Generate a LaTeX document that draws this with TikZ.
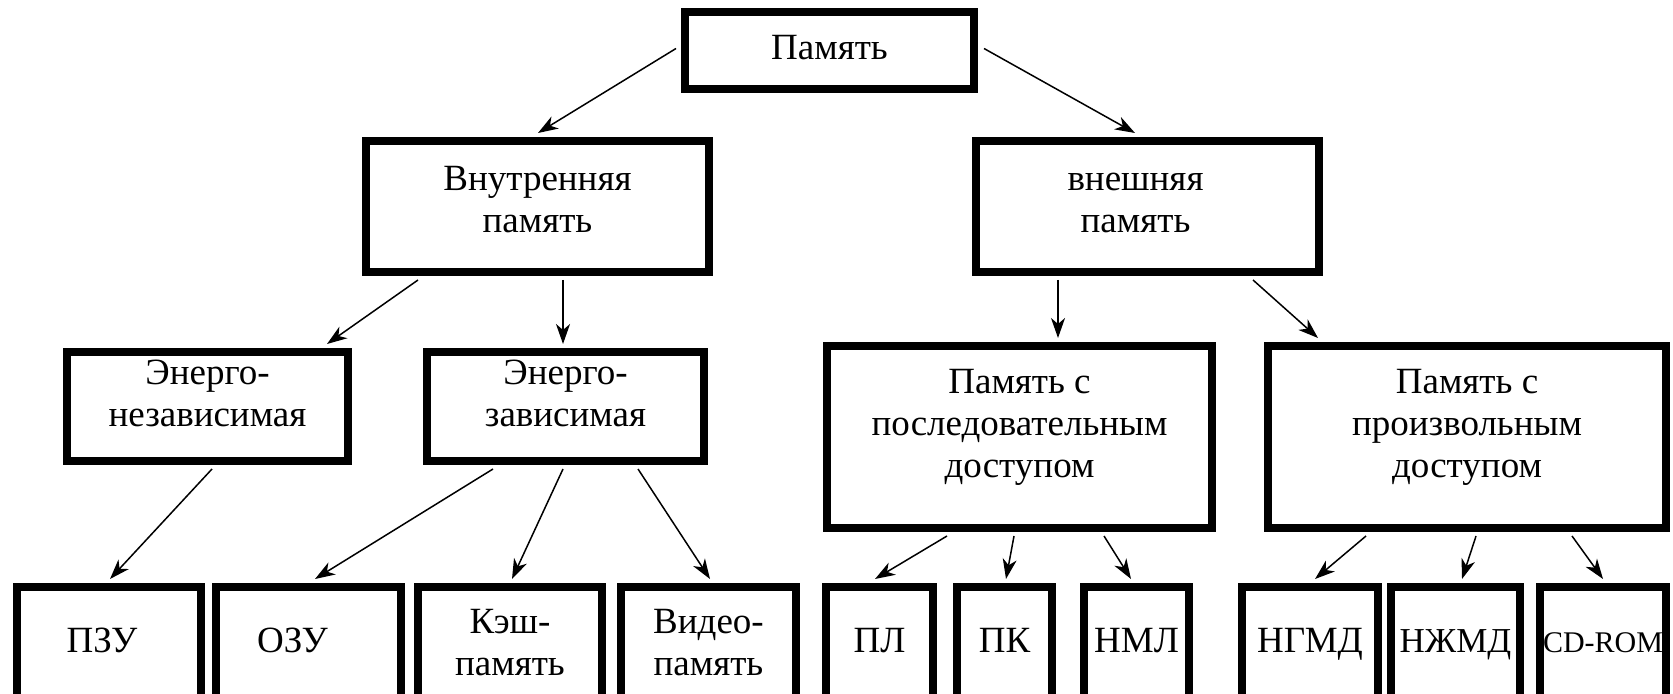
\documentclass[tikz,border=0pt]{standalone}
\usepackage{fontspec}
\setmainfont{Liberation Serif}
\usetikzlibrary{arrows.meta,calc}
\newcommand{\boxtxt}[3][0pt]{\makebox[0pt]{\hspace*{#1}\hspace*{#1}\raisebox{#2}[0pt][0pt]{\begin{tabular}[b]{@{}c@{}}#3\end{tabular}}}}
\begin{document}
\begin{tikzpicture}[x=0.5pt,y=-0.5pt,
  box/.style={draw, line width=4pt, inner sep=0pt,
    font=\fontsize{18.5}{21}\selectfont},
  conn/.style={line width=0.75pt, -{Stealth[length=10pt,width=7pt,inset=3pt]}},
  lowbox/.style={box, minimum height=100pt}]
\useasboundingbox (0,0) rectangle (1673,694);
\fill[white] (0,0) rectangle (1673,694);
\clip (0,0) rectangle (1673,694);
% level 0
\node[box, minimum width=144.5pt, minimum height=38.5pt] (root) at (829.5,50.5) {\boxtxt{-4.75pt}{Память}};
% level 1
\node[box, minimum width=171.5pt, minimum height=65.5pt] (int) at (537.5,206.5) {\boxtxt{-13.25pt}{Внутренняя\\память}};
\node[box, minimum width=171.5pt, minimum height=65.5pt] (ext) at (1147.5,206.5) {\boxtxt[-6pt]{-13.25pt}{внешняя\\память}};
% level 2
\node[box, minimum width=140.5pt, minimum height=54.5pt] (nez) at (207.5,406.5) {\boxtxt{-10.25pt}{Энерго-\\независимая}};
\node[box, minimum width=138.5pt, minimum height=54.5pt] (zav) at (565.5,406.5) {\boxtxt{-10.25pt}{Энерго-\\зависимая}};
\node[box, minimum width=192.5pt, minimum height=91pt] (seq) at (1019.5,437) {\boxtxt{-20.5pt}{Память с\\последовательным\\доступом}};
\node[box, minimum width=199pt, minimum height=91pt] (rnd) at (1467,437) {\boxtxt{-20.5pt}{Память с\\произвольным\\доступом}};
% level 3
\node[lowbox, minimum width=92pt] (pzu) at (109,687) {\boxtxt[-3.5pt]{17.5pt}{ПЗУ}};
\node[lowbox, minimum width=92.5pt] (ozu) at (308.5,687) {\boxtxt[-8pt]{17.5pt}{ОЗУ}};
\node[lowbox, minimum width=92pt] (kesh) at (510,687) {\boxtxt{6pt}{Кэш-\\память}};
\node[lowbox, minimum width=87.5pt] (video) at (708.5,687) {\boxtxt{6pt}{Видео-\\память}};
\node[lowbox, minimum width=53.5pt] (pl) at (879.5,687) {\boxtxt{17.5pt}{ПЛ}};
\node[lowbox, minimum width=47.5pt] (pk) at (1004.5,687) {\boxtxt{17.5pt}{ПК}};
\node[lowbox, minimum width=52.5pt] (nml) at (1136.5,687) {\boxtxt{17.5pt}{НМЛ}};
\node[lowbox, minimum width=68pt] (ngmd) at (1310,687) {\boxtxt{17.5pt}{НГМД}};
\node[lowbox, minimum width=64.5pt, font=\fontsize{17.5}{21}\selectfont] (nzhmd) at (1455.5,687) {\boxtxt{17.5pt}{НЖМД}};
\node[lowbox, minimum width=63pt, font=\fontsize{15}{21}\selectfont] (cd) at (1603,687) {\boxtxt{17.5pt}{CD-ROM}};
% connectors
\draw[conn] ($(root.west)+(-5,-2)$) -- ($(int.north)+(0.5,-4)$);
\draw[conn] ($(root.east)+(6,-2)$) -- ($(ext.north)+(-12.5,-4)$);
\draw[conn] ($(int.south)+(-119.5,4)$) -- ($(nez.north)+(119.5,-4)$);
\draw[conn] ($(int.south)+(25.5,4)$) -- ($(zav.north)+(-2.5,-4)$);
\draw[conn] ($(ext.south)+(-89.5,4)$) -- ($(seq.north)+(38.5,-4)$);
\draw[conn] ($(ext.south)+(105.5,4)$) -- ($(rnd.north)+(-149,-4)$);
\draw[conn] ($(nez.south)+(4.5,4)$) -- ($(pzu.north)+(1,-4)$);
\draw[conn] ($(zav.south)+(-72.5,4)$) -- ($(ozu.north)+(6.5,-4)$);
\draw[conn] ($(zav.south)+(-2.5,4)$) -- ($(kesh.north)+(2,-4)$);
\draw[conn] ($(zav.south)+(72.5,4)$) -- ($(video.north)+(1.5,-4)$);
\draw[conn] ($(seq.south)+(-72.5,4)$) -- ($(pl.north)+(-4.5,-4)$);
\draw[conn] ($(seq.south)+(-5.5,4)$) -- ($(pk.north)+(1.5,-4)$);
\draw[conn] ($(seq.south)+(84.5,4)$) -- ($(nml.north)+(-5.5,-4)$);
\draw[conn] ($(rnd.south)+(-101,4)$) -- ($(ngmd.north)+(5,-4)$);
\draw[conn] ($(rnd.south)+(9,4)$) -- ($(nzhmd.north)+(6.5,-4)$);
\draw[conn] ($(rnd.south)+(105,4)$) -- ($(cd.north)+(0,-4)$);
\end{tikzpicture}
\end{document}
